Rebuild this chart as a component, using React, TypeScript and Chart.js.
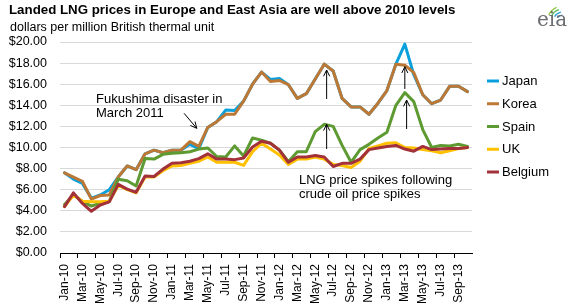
import React, { useEffect, useRef } from "react";
import { Chart, registerables } from "chart.js";
Chart.register(...registerables);

const FONT = "Arial, 'Liberation Sans', sans-serif";

const months = [
  "Jan-10","Feb-10","Mar-10","Apr-10","May-10","Jun-10","Jul-10","Aug-10","Sep-10","Oct-10","Nov-10","Dec-10",
  "Jan-11","Feb-11","Mar-11","Apr-11","May-11","Jun-11","Jul-11","Aug-11","Sep-11","Oct-11","Nov-11","Dec-11",
  "Jan-12","Feb-12","Mar-12","Apr-12","May-12","Jun-12","Jul-12","Aug-12","Sep-12","Oct-12","Nov-12","Dec-12",
  "Jan-13","Feb-13","Mar-13","Apr-13","May-13","Jun-13","Jul-13","Aug-13","Sep-13","Oct-13",
];

const japan = [
  7.6, 7.0, 6.6, 5.2, 5.5, 6.0, 7.2, 8.25, 7.9, 9.4, 9.75, 9.5,
  9.75, 9.75, 10.3, 9.9, 11.9, 12.45, 13.55, 13.5, 14.4, 16.0, 17.15, 16.45,
  16.55, 15.95, 14.65, 15.1, 16.5, 17.9, 17.25, 14.65, 13.85, 13.85, 13.15, 14.2,
  15.4, 17.9, 19.8, 16.9, 15.0, 14.15, 14.5, 15.8, 15.8, 15.3,
];
const korea = [
  7.6, 7.2, 6.8, 5.1, 5.45, 5.5, 7.2, 8.25, 7.9, 9.4, 9.75, 9.5,
  9.75, 9.75, 10.55, 10.1, 11.9, 12.45, 13.15, 13.15, 14.4, 16.0, 17.15, 16.25,
  16.35, 15.95, 14.65, 15.1, 16.5, 17.9, 17.25, 14.65, 13.85, 13.85, 13.15, 14.2,
  15.4, 17.9, 17.8, 17.1, 15.0, 14.15, 14.5, 15.8, 15.8, 15.3,
];
const spain = [
  4.6, 5.5, 4.9, 4.45, 4.7, 4.9, 7.0, 6.85, 6.35, 8.95, 8.9, 9.35,
  9.45, 9.5, 9.6, 9.85, 9.95, 9.15, 9.1, 10.15, 9.2, 10.9, 10.7, 10.4,
  9.75, 8.65, 9.6, 9.6, 11.5, 12.2, 12.0, 10.2, 8.6, 9.8, 10.3, 10.9,
  11.45, 14.0, 15.2, 14.35, 11.7, 10.0, 10.2, 10.15, 10.3, 10.1,
];
const uk = [
  4.4, 5.5, 4.9, 4.85, 4.85, 4.9, 6.4, 6.0, 5.7, 7.2, 7.2, 7.8,
  8.25, 8.3, 8.5, 8.7, 9.1, 8.6, 8.6, 8.6, 8.3, 9.6, 10.4, 9.85,
  9.3, 8.4, 8.9, 8.9, 9.1, 8.9, 8.4, 8.3, 8.1, 8.7, 9.9, 10.15,
  10.4, 10.45, 10.0, 9.95, 9.8, 9.7, 9.5, 9.7, 9.9, 10.0,
];
const belgium = [
  4.4, 5.7, 4.7, 3.95, 4.55, 4.85, 6.5, 6.05, 5.75, 7.3, 7.25, 7.95,
  8.5, 8.55, 8.7, 8.95, 9.4, 8.9, 8.9, 8.85, 9.0, 10.05, 10.6, 10.4,
  9.75, 8.6, 9.1, 9.1, 9.25, 9.1, 8.2, 8.5, 8.5, 8.9, 9.8, 9.95,
  10.1, 10.2, 9.85, 9.65, 10.1, 9.8, 9.85, 9.9, 9.9, 10.0,
];

const seriesNames = ["Japan", "Korea", "Spain", "UK", "Belgium"];
const seriesData = [japan, korea, spain, uk, belgium];
const seriesColors = ["#0AA0DC", "#BC7834", "#5E9A32", "#FFC000", "#A3313A"];

const titleText = "Landed LNG prices in Europe and East Asia are well above 2010 levels";
const subtitleText = "dollars per million British thermal unit";
const fukushimaNote = ["Fukushima disaster in", "March 2011"];
const spikeNote = ["LNG price spikes following", "crude oil price spikes"];

// arrows in data space: [fromIndex, fromValue, toIndex, toValue]
const arrows = [
  [13.35, 13.24, 14.77, 11.82],
  [29.27, 14.6, 29.27, 17.35],
  [29.27, 9.86, 29.27, 12.2],
  [38.0, 15.55, 38.0, 17.66],
  [38.2, 11.75, 38.2, 14.5],
];

function drawArrow(ctx: CanvasRenderingContext2D, x1: number, y1: number, x2: number, y2: number) {
  const a = Math.atan2(y2 - y1, x2 - x1);
  const h = 7;
  const spread = 0.45;
  ctx.beginPath();
  ctx.moveTo(x1, y1);
  ctx.lineTo(x2, y2);
  ctx.moveTo(x2 - h * Math.cos(a - spread), y2 - h * Math.sin(a - spread));
  ctx.lineTo(x2, y2);
  ctx.lineTo(x2 - h * Math.cos(a + spread), y2 - h * Math.sin(a + spread));
  ctx.stroke();
}

const extrasPlugin = {
  id: "extras",
  afterDraw(chart: any) {
    const ctx: CanvasRenderingContext2D = chart.ctx;
    const xs = chart.scales.x;
    const ys = chart.scales.y;
    ctx.save();
    ctx.fillStyle = "#000";
    ctx.textBaseline = "alphabetic";
    ctx.textAlign = "left";
    ctx.font = `bold 13.3px ${FONT}`;
    ctx.fillText(titleText, 9, 14);
    ctx.font = `12.5px ${FONT}`;
    ctx.fillText(subtitleText, 10, 31);

    ctx.font = `13px ${FONT}`;
    ctx.fillText(fukushimaNote[0], 96, 103);
    ctx.fillText(fukushimaNote[1], 96, 117);
    ctx.fillText(spikeNote[0], 299, 183.5);
    ctx.fillText(spikeNote[1], 299, 197.5);

    ctx.strokeStyle = "#000";
    ctx.lineWidth = 1;
    for (const [fi, fv, ti, tv] of arrows) {
      drawArrow(ctx, xs.getPixelForValue(fi), ys.getPixelForValue(fv), xs.getPixelForValue(ti), ys.getPixelForValue(tv));
    }

    // legend
    ctx.font = `13px ${FONT}`;
    ctx.textBaseline = "middle";
    seriesNames.forEach((name, i) => {
      const y = 81 + i * 22.75;
      ctx.strokeStyle = seriesColors[i];
      ctx.lineWidth = 3;
      ctx.beginPath();
      ctx.moveTo(487, y);
      ctx.lineTo(499, y);
      ctx.stroke();
      ctx.fillStyle = "#000";
      ctx.fillText(name, 502, y + 0.5);
    });

    // eia logo
    ctx.lineWidth = 1.3;
    const arcs = [
      ["#8cc63f", 563, 22, 16, 3.6, 4.3],
      ["#5cb85c", 563, 22, 13, 3.6, 4.4],
      ["#29a3d9", 563, 22, 10, 3.7, 4.5],
      ["#1b75bb", 563, 22, 7, 3.8, 4.6],
    ] as const;
    for (const [c, cx, cy, r, s, e] of arcs) {
      ctx.strokeStyle = c;
      ctx.beginPath();
      ctx.arc(cx, cy, r, s, e);
      ctx.stroke();
    }
    ctx.fillStyle = "#6d6e71";
    ctx.font = `20px 'DejaVu Serif', 'Liberation Serif', serif`;
    ctx.textBaseline = "alphabetic";
    ctx.fillText("eia", 537, 26);
    ctx.restore();
  },
};

export default function App() {
  const ref = useRef<HTMLCanvasElement>(null);
  useEffect(() => {
    if (!ref.current) return;
    const order = [5, 4, 3, 2, 1];
    const chart = new Chart(ref.current, {
      type: "line",
      data: {
        labels: months,
        datasets: seriesNames.map((n, i) => ({
          label: n,
          data: seriesData[i],
          borderColor: seriesColors[i],
          backgroundColor: seriesColors[i],
          borderWidth: 3,
          pointRadius: 0,
          tension: 0,
          borderJoinStyle: "round" as const,
          borderCapStyle: "round" as const,
          order: order[i],
        })),
      },
      options: {
        responsive: false,
        animation: false,
        devicePixelRatio: 1,
        layout: { padding: { top: 42, right: 98, left: 0, bottom: 0 } },
        plugins: { legend: { display: false }, tooltip: { enabled: false }, title: { display: false } },
        scales: {
          x: {
            type: "category",
            offset: true,
            afterFit: (s: any) => { s.height = 55; },
            grid: {
              display: true,
              offset: true,
              drawOnChartArea: false,
              drawTicks: true,
              tickLength: 5,
              tickColor: (c: any) => (c.index % 2 === 0 ? "#000" : "rgba(0,0,0,0)"),
            },
            border: { display: true, color: "#000", width: 1 },
            ticks: {
              autoSkip: false,
              minRotation: 90,
              maxRotation: 90,
              padding: 6,
              color: "#000",
              font: { family: FONT, size: 12 },
              callback: (_v: any, i: number) => (i % 2 === 0 ? months[i] : ""),
            },
          },
          y: {
            min: 0,
            max: 20,
            afterFit: (s: any) => { s.width = 60; },
            grid: { color: "#d9d9d9", drawTicks: false, lineWidth: 1 },
            border: { display: false },
            ticks: {
              stepSize: 2,
              padding: 13,
              color: "#000",
              font: { family: FONT, size: 12.5 },
              callback: (v: any) => "$" + Number(v).toFixed(2),
            },
          },
        },
      },
      plugins: [extrasPlugin],
    });
    return () => chart.destroy();
  }, []);
  return (
    <div style={{ position: "absolute", left: 0, top: 0, width: 570, height: 308, background: "#fff" }}>
      <canvas ref={ref} width={570} height={308} style={{ width: 570, height: 308, display: "block" }} />
    </div>
  );
}
